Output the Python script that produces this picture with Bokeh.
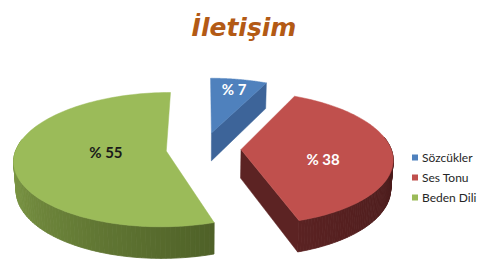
import numpy as np
from bokeh.plotting import figure
from bokeh.models import Range1d
from bokeh.embed import file_html
from bokeh.resources import INLINE
from bokeh.core.properties import value

# ---------------- data ----------------
chart_title = "İletişim"
categories = ["Sözcükler", "Ses Tonu", "Beden Dili"]
percentages = [7, 38, 55]
label_texts = ["% 7", "% 38", "% 55"]

# ---------------- styles ----------------
top_colors = ["#4F81BD", "#C0504D", "#9BBB59"]
wall_light = ["#42699E", "#5A2222", "#86A34B"]
wall_dark = ["#36577F", "#461A1A", "#4E6027"]
side_colors = ["#3D6499", "#5C2323", "#5E7430"]
label_colors = ["#FFFFFF", "#FFFFFF", "#1A1A1A"]
label_radius = [0.81, 0.55, 0.40]
label_shift_deg = [0.0, -11.0, -8.0]

W, H = 477, 265
CX, CY = 203.0, 148.0      # page pixel position of pie centre
K = 150.0                  # radius in px
SIN_A, COS_A = 0.436, 0.90
DIST = 7.09
THICK = 0.214
EXPLODE = 0.25


def project(X, Y, Z):
    X = np.asarray(X, float); Y = np.asarray(Y, float); Z = np.asarray(Z, float)
    depth = Y * COS_A - Z * SIN_A
    s = 1.0 / (1.0 + depth / DIST)
    sx = CX + K * X * s
    sy = CY - K * (Y * SIN_A + Z * COS_A) * s
    return sx, sy


def mix(c1, c2, t):
    a = np.array([int(c1[i:i + 2], 16) for i in (1, 3, 5)], float)
    b = np.array([int(c2[i:i + 2], 16) for i in (1, 3, 5)], float)
    c = (a + (b - a) * t).round().astype(int)
    return "#%02x%02x%02x" % tuple(c)


p = figure(width=W, height=H, output_backend="svg", toolbar_location=None,
           x_range=Range1d(0, W), y_range=Range1d(H, 0),
           min_border=0, outline_line_color=None)
p.axis.visible = False
p.grid.visible = False
p.background_fill_color = "white"
p.border_fill_color = "white"

total = float(sum(percentages))
ends = []
cum = 0.0
for v in percentages:
    b = 90.0 - cum / total * 360.0
    a = b - v / total * 360.0
    ends.append((a, b))
    cum += v

draw_order = [0, 2, 1]
label_x, label_y = [0.0] * 3, [0.0] * 3

for i in draw_order:
    a, b = ends[i]
    mid = np.radians((a + b) / 2.0)
    ex, ey = EXPLODE * np.cos(mid), EXPLODE * np.sin(mid)
    phis = np.radians(np.linspace(a, b, 121))

    # outer wall (front part)
    vis = np.sin(phis) < 0.2
    idx = np.where(vis)[0]
    xs_list, ys_list, cols = [], [], []
    if len(idx) > 1:
        pmin, pmax = phis[idx[0]], phis[idx[-1]]
        for j in idx[:-1]:
            if not vis[j + 1]:
                continue
            ph = np.array([phis[j], phis[j + 1], phis[j + 1], phis[j]])
            zz = np.array([0, 0, -THICK, -THICK])
            sx, sy = project(ex + np.cos(ph), ey + np.sin(ph), zz)
            xs_list.append(list(sx)); ys_list.append(list(sy))
            t = (phis[j] - pmin) / (pmax - pmin) if pmax > pmin else 0
            cols.append(mix(wall_light[i], wall_dark[i], t))
        p.patches(xs_list, ys_list, fill_color=cols, line_color=cols, line_width=0.8)

    # radial faces
    for ang, nrm in ((a, a - 90.0), (b, b + 90.0)):
        if np.sin(np.radians(nrm)) < -0.05:
            r = np.radians(ang)
            X = [ex, ex + np.cos(r), ex + np.cos(r), ex]
            Y = [ey, ey + np.sin(r), ey + np.sin(r), ey]
            Z = [0, 0, -THICK, -THICK]
            sx, sy = project(X, Y, Z)
            p.patch(list(sx), list(sy), fill_color=side_colors[i],
                    line_color=side_colors[i], line_width=0.5)

    # top face
    X = np.concatenate([[ex], ex + np.cos(phis)])
    Y = np.concatenate([[ey], ey + np.sin(phis)])
    sx, sy = project(X, Y, np.zeros_like(X))
    p.patch(list(sx), list(sy), fill_color=top_colors[i],
            line_color=top_colors[i], line_width=0.5)

    la = mid + np.radians(label_shift_deg[i])
    lx, ly = project(ex + label_radius[i] * np.cos(la), ey + label_radius[i] * np.sin(la), 0.0)
    label_x[i], label_y[i] = float(lx), float(ly)

# slice labels
for i in range(3):
    p.text(x=[label_x[i]], y=[label_y[i]], text=[label_texts[i]],
           text_font=value("Lato"), text_font_style="bold", text_font_size="15px",
           text_color=label_colors[i], text_align="center", text_baseline="middle")

# title
p.text(x=[243.5], y=[27], text=[chart_title], text_font=value("DejaVu Sans"),
       text_font_style="bold italic", text_font_size="25px", text_color="#B35A15",
       text_align="center", text_baseline="alphabetic")

# legend
leg_y = [157.0 + 20.0 * k for k in range(len(categories))]
p.scatter(x=[414.5] * 3, y=leg_y, marker="square", size=6, fill_color=top_colors,
          line_color=None)
p.text(x=[421.5] * 3, y=leg_y, text=categories, text_font=value("Lato"),
       text_font_size="12px", text_color="#262626", text_align="left",
       text_baseline="middle")

open("out.html", "w").write(file_html(p, INLINE))
